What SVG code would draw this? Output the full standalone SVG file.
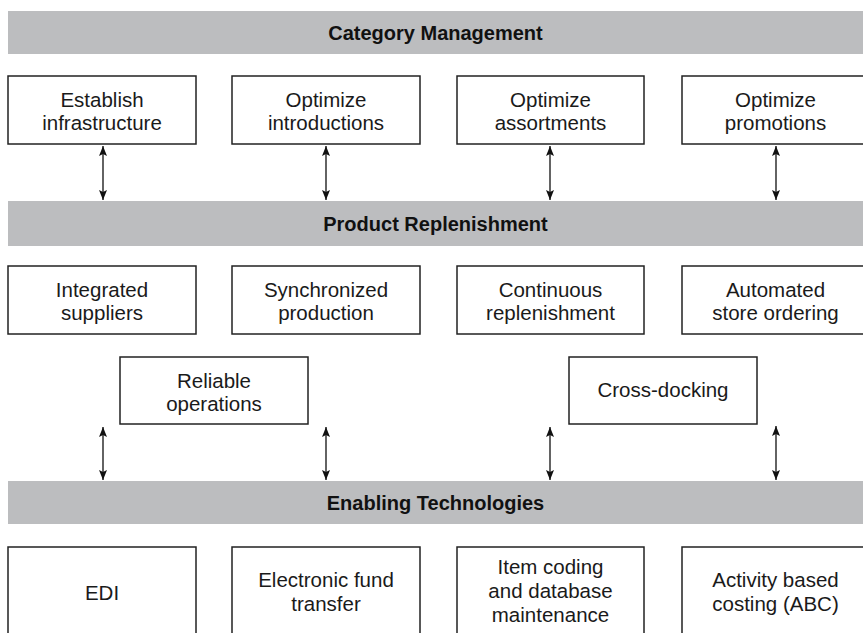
<svg xmlns="http://www.w3.org/2000/svg" width="863" height="633" viewBox="0 0 863 633">
<style>
.band{fill:#bcbdbf}
.bt{font-family:"Liberation Sans",Arial,sans-serif;font-weight:bold;font-size:20px;fill:#111;text-anchor:middle}
.box{fill:#fff;stroke:#222;stroke-width:1.5}
.t{font-family:"Liberation Sans",Arial,sans-serif;font-size:20.5px;fill:#1a1a1a;text-anchor:middle}
.c{stroke:#222;stroke-width:1.4;fill:none;marker-start:url(#ah);marker-end:url(#ah)}
</style>
<defs>
<marker id="ah" viewBox="0 0 10 8" refX="10" refY="4" markerWidth="10" markerHeight="8" markerUnits="userSpaceOnUse" orient="auto-start-reverse">
<path d="M0,0 L10,4 L0,8 L2,4 Z" fill="#111"/>
</marker>
</defs>
<rect width="863" height="633" fill="#fff"/>
<g id="band-category"><rect class="band" x="8" y="11" width="855" height="43"/><text class="bt" x="435.5" y="39.5">Category Management</text></g>
<g id="band-product"><rect class="band" x="8" y="201" width="855" height="45"/><text class="bt" x="435.5" y="230.5">Product Replenishment</text></g>
<g id="band-enabling"><rect class="band" x="8" y="481" width="855" height="43"/><text class="bt" x="435.5" y="509.5">Enabling Technologies</text></g>

<g id="n-establish"><rect class="box" x="8" y="76" width="188" height="68"/><text class="t" x="102" y="107">Establish</text><text class="t" x="102" y="130">infrastructure</text></g>
<g id="n-introductions"><rect class="box" x="232" y="76" width="188" height="68"/><text class="t" x="326" y="107">Optimize</text><text class="t" x="326" y="130">introductions</text></g>
<g id="n-assortments"><rect class="box" x="457" y="76" width="187" height="68"/><text class="t" x="550.5" y="107">Optimize</text><text class="t" x="550.5" y="130">assortments</text></g>
<g id="n-promotions"><rect class="box" x="682" y="76" width="188" height="68"/><text class="t" x="775.5" y="107">Optimize</text><text class="t" x="775.5" y="130">promotions</text></g>

<g id="n-integrated"><rect class="box" x="8" y="266" width="188" height="68"/><text class="t" x="102" y="297">Integrated</text><text class="t" x="102" y="320">suppliers</text></g>
<g id="n-synchronized"><rect class="box" x="232" y="266" width="188" height="68"/><text class="t" x="326" y="297">Synchronized</text><text class="t" x="326" y="320">production</text></g>
<g id="n-continuous"><rect class="box" x="457" y="266" width="187" height="68"/><text class="t" x="550.5" y="297">Continuous</text><text class="t" x="550.5" y="320">replenishment</text></g>
<g id="n-automated"><rect class="box" x="682" y="266" width="188" height="68"/><text class="t" x="775.5" y="297">Automated</text><text class="t" x="775.5" y="320">store ordering</text></g>

<g id="n-reliable"><rect class="box" x="120" y="357" width="188" height="67"/><text class="t" x="214" y="388">Reliable</text><text class="t" x="214" y="411">operations</text></g>
<g id="n-crossdocking"><rect class="box" x="569" y="357" width="188" height="67"/><text class="t" x="663" y="397">Cross-docking</text></g>

<g id="n-edi"><rect class="box" x="8" y="547" width="188" height="100"/><text class="t" x="102" y="600">EDI</text></g>
<g id="n-eft"><rect class="box" x="232" y="547" width="188" height="100"/><text class="t" x="326" y="587">Electronic fund</text><text class="t" x="326" y="611">transfer</text></g>
<g id="n-itemcoding"><rect class="box" x="457" y="547" width="187" height="100"/><text class="t" x="550.5" y="574">Item coding</text><text class="t" x="550.5" y="598">and database</text><text class="t" x="550.5" y="622">maintenance</text></g>
<g id="n-abc"><rect class="box" x="682" y="547" width="188" height="100"/><text class="t" x="775.5" y="587">Activity based</text><text class="t" x="775.5" y="611">costing (ABC)</text></g>

<g id="connectors">
<line class="c" x1="103" y1="146" x2="103" y2="200"/>
<line class="c" x1="326" y1="146" x2="326" y2="200"/>
<line class="c" x1="550" y1="146" x2="550" y2="200"/>
<line class="c" x1="776" y1="146" x2="776" y2="200"/>
<line class="c" x1="103" y1="427" x2="103" y2="480"/>
<line class="c" x1="326" y1="427" x2="326" y2="480"/>
<line class="c" x1="550" y1="427" x2="550" y2="480"/>
<line class="c" x1="776" y1="426" x2="776" y2="480"/>
</g>
</svg>
